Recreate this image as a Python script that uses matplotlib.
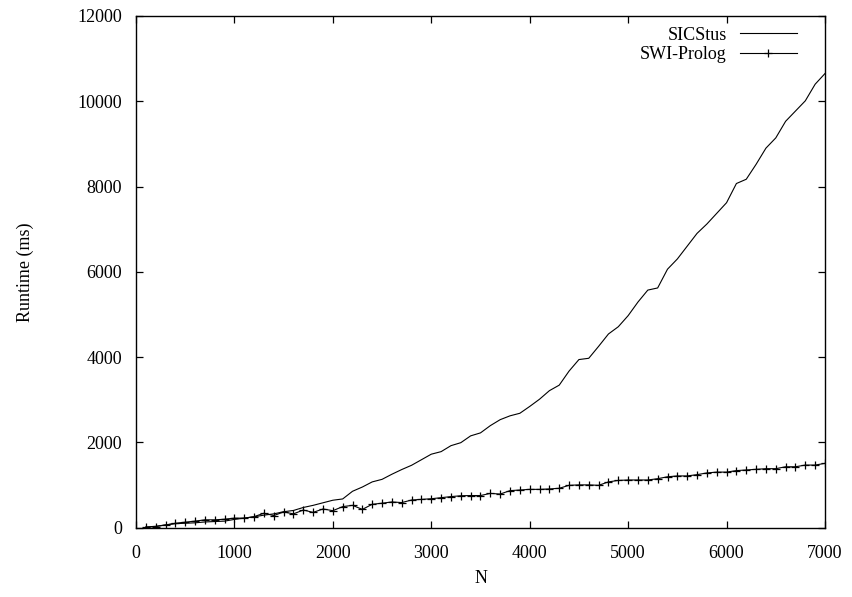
import matplotlib
matplotlib.use("Agg")
from matplotlib import pyplot as plt

n_values = list(range(100, 7001, 100))

sicstus_ms = [10, 30, 60, 90, 100, 110, 130, 140, 150, 190,
              220, 250, 290, 320, 370, 400, 470, 520, 580, 640,
              670, 850, 950, 1070, 1130, 1250, 1360, 1460, 1590, 1720,
              1780, 1920, 1990, 2150, 2220, 2390, 2530, 2620, 2680, 2840,
              3010, 3210, 3340, 3670, 3940, 3970, 4250, 4540, 4710, 4970,
              5290, 5570, 5620, 6060, 6300, 6600, 6900, 7120, 7370, 7620,
              8070, 8170, 8520, 8900, 9140, 9530, 9770, 10010, 10400, 10650]

swi_ms = [10, 20, 60, 100, 125, 150, 180, 180, 195, 220,
          220, 255, 335, 280, 365, 320, 410, 355, 435, 395,
          490, 520, 425, 545, 570, 600, 585, 645, 660, 675,
          700, 725, 745, 750, 750, 800, 785, 865, 880, 895,
          895, 905, 920, 990, 1000, 1000, 990, 1070, 1105, 1115,
          1115, 1115, 1145, 1190, 1210, 1210, 1240, 1280, 1300, 1300,
          1335, 1350, 1365, 1380, 1380, 1425, 1425, 1465, 1465, 1505]

x_ticks = [0, 1000, 2000, 3000, 4000, 5000, 6000, 7000]
y_ticks = [0, 2000, 4000, 6000, 8000, 10000, 12000]

plt.rcParams['font.family'] = ['Liberation Serif', 'DejaVu Serif']
plt.rcParams['font.size'] = 13

fig = plt.figure(figsize=(8.52, 5.97), dpi=100)
ax = fig.add_axes([0.1596, 0.1164, 0.8087, 0.8568])

ax.plot(n_values, sicstus_ms, color='black', linewidth=0.8, label='SICStus')
ax.plot(n_values, swi_ms, color='black', linewidth=0.8, marker='+',
        markersize=6, markeredgewidth=0.9, label='SWI-Prolog')

ax.set_xlim(0, 7000)
ax.set_ylim(0, 12000)
ax.set_xticks(x_ticks)
ax.set_yticks(y_ticks)
ax.tick_params(direction='in', length=5, width=0.9, top=True, right=True)
ax.tick_params(axis='x', pad=12.5)
ax.tick_params(axis='y', pad=10)
for s in ax.spines.values():
    s.set_linewidth(1.0)

ax.set_xlabel("N", labelpad=6)
ax.set_ylabel("Runtime (ms)", labelpad=31)

ax.legend(loc='upper right', bbox_to_anchor=(1 - 15 / 689, 1 + 2 / 511),
          frameon=False, markerfirst=False,
          handlelength=3.2, handletextpad=0.7, labelspacing=0.14,
          borderaxespad=0.4, borderpad=0.3)

fig.savefig("out.png", dpi=100)
